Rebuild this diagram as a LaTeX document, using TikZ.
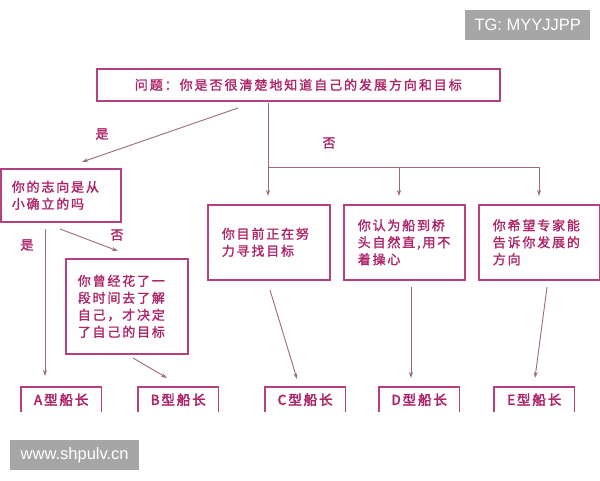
\documentclass[tikz,border=0pt]{standalone}
\usepackage{fontspec}
\setmainfont{Liberation Sans}
\newfontfamily\cjk[LetterSpace=14,FakeBold=1.6]{Noto Sans CJK SC}
\newfontfamily\cjkt[LetterSpace=15,FakeBold=1.6]{Noto Sans CJK SC}
\newfontfamily\cjkb[LetterSpace=14,FakeBold=3]{Noto Sans CJK SC}
\usetikzlibrary{arrows.meta}
\definecolor{txt}{HTML}{AE2468}
\definecolor{bord}{HTML}{B4417E}
\definecolor{conn}{HTML}{9C6A85}
\definecolor{badge}{HTML}{A6A6A6}
\tikzset{
  qbox/.style={draw=bord,line width=1.6pt,rectangle,anchor=north west,inner xsep=14pt,inner ysep=0pt,
    text=txt,align=left,font=\cjk\fontsize{13}{17}\selectfont},
  endbox/.style={rectangle,anchor=north west,minimum width=80pt,minimum height=25pt,inner sep=0pt,
    text=txt,font=\cjkb\fontsize{13.5}{14}\selectfont},
  endside/.style={draw=bord,line width=1.6pt},
  lbl/.style={text=txt,font=\cjk\fontsize{13}{14}\selectfont,inner sep=0pt},
  conline/.style={draw=conn,line width=0.9pt},
  arr/.style={conline,-{Stealth[length=6pt,width=4pt]}},
  badgebox/.style={fill=badge,text=white,inner sep=0pt,font=\fontsize{16.5}{18}\selectfont}
}
\begin{document}
\begin{tikzpicture}[x=1pt,y=-1pt]
\useasboundingbox[fill=white] (0,0) rectangle (600,480);
% badges
\node[badgebox,minimum width=125pt,minimum height=30pt,anchor=north west] (tg) at (465,10) {TG: MYYJJPP};
\node[badgebox,minimum width=129pt,minimum height=30pt,anchor=north west] (www) at (10,440) {www.shpulv.cn};
% top question
\node[qbox,minimum width=403pt,minimum height=32pt,align=center,font=\cjkt\fontsize{13}{17}\selectfont] (q) at (96,68) {问题：你是否很清楚地知道自己的发展方向和目标};
% level 1 boxes
\node[qbox,inner xsep=11pt,text width=98pt,minimum height=53pt] (b1) at (0,168) {你的志向是从\\小确立的吗};
\node[qbox,text width=94pt,minimum height=75pt] (c1) at (207,204) {你目前正在努\\力寻找目标};
\node[qbox,text width=93pt,minimum height=75pt] (d1) at (343,204) {你认为船到桥\\头自然直,用不\\着操心};
\node[qbox,text width=93pt,minimum height=75pt] (e1) at (478,204) {你希望专家能\\告诉你发展的\\方向};
\node[qbox,inner xsep=12pt,text width=98pt,minimum height=95pt] (bb) at (65,258) {你曾经花了一\\段时间去了解\\自己，才决定\\了自己的目标};
% end boxes
\node[endbox] (A) at (21,387) {A型船长};
\node[endbox] (B) at (138,387) {B型船长};
\node[endbox] (C) at (265,387) {C型船长};
\node[endbox] (D) at (379,387) {D型船长};
\node[endbox] (E) at (494,387) {E型船长};
\foreach \n in {A,B,C,D,E}{
  \draw[endside] (\n.south west) -- (\n.north west) -- (\n.north east) -- (\n.south east);
}
% labels
\node[lbl] (l1) at (102,134) {是};
\node[lbl] (l2) at (329,143) {否};
\node[lbl] (l3) at (117,235) {否};
\node[lbl] (l4) at (27,245) {是};
% coordinates
\coordinate (qs1) at (238,108);
\coordinate (qs2) at (268,103);
\coordinate (b1tip) at (82,162);
\coordinate (hj) at (268,167);
\coordinate (hd) at (399,167);
\coordinate (he) at (539,167);
\coordinate (ctip) at (268,196);
\coordinate (dtip) at (399,196);
\coordinate (etip) at (539,196);
\coordinate (bs1) at (60,229);
\coordinate (bbtip) at (118,251);
\coordinate (as) at (45,229);
\coordinate (atip) at (45,376);
\coordinate (bs2) at (133,358);
\coordinate (btip) at (167,378);
\coordinate (cs) at (270,290);
\coordinate (ctip2) at (297,379);
\coordinate (ds) at (411,287);
\coordinate (dtip2) at (411,378);
\coordinate (es) at (547,287);
\coordinate (etip2) at (535,378);
% connectors
\draw[arr] (qs1) -- (b1tip);
\draw[arr] (qs2) -- (ctip);
\draw[conline] (hj) -- (he);
\draw[arr] (hd) -- (dtip);
\draw[arr] (he) -- (etip);
\draw[arr] (bs1) -- (bbtip);
\draw[arr] (as) -- (atip);
\draw[arr] (bs2) -- (btip);
\draw[arr] (cs) -- (ctip2);
\draw[arr] (ds) -- (dtip2);
\draw[arr] (es) -- (etip2);
\end{tikzpicture}
\end{document}
